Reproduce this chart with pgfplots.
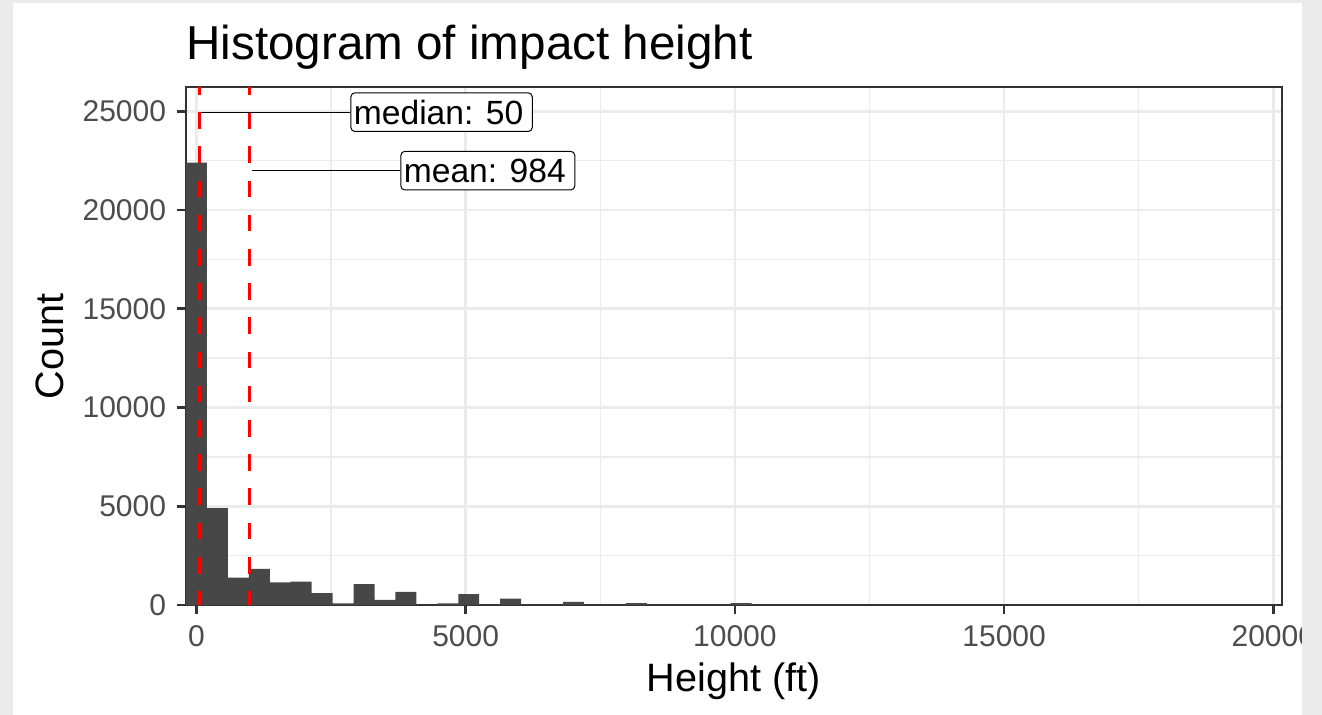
\documentclass[border=0pt]{standalone}
\usepackage{pgfplots}
\pgfplotsset{compat=1.18}
\usepackage{fontspec}
\setmainfont{Liberation Sans}
\definecolor{bgframe}{HTML}{EBEBEB}
\definecolor{gridc}{HTML}{EBEBEB}
\definecolor{barc}{HTML}{474747}
\definecolor{tickc}{HTML}{333333}
\definecolor{ticklab}{HTML}{4D4D4D}
\begin{document}
\begin{tikzpicture}
\useasboundingbox (0,0) rectangle (661pt,-357.5pt);
\fill[bgframe] (0,0) rectangle (661pt,-357.5pt);
\fill[white] (6.35pt,-1.5pt) rectangle (651pt,-357.5pt);
\begin{axis}[
  at={(93pt,-302.5pt)}, anchor=south west,
  scale only axis, width=547.85pt, height=258.85pt,
  xmin=-194.5, xmax=20156, ymin=0, ymax=26210,
  xtick={0,5000,10000,15000,20000},
  ytick={0,5000,10000,15000,20000,25000},
  minor xtick={2500,7500,12500,17500},
  minor ytick={2500,7500,12500,17500,22500},
  scaled ticks=false,
  /pgf/number format/set thousands separator={},
  /pgf/number format/assume math mode=true,
  tick pos=left,
  tick align=outside,
  major tick length=4.3pt,
  minor tick length=0pt,
  major tick style={line width=1.35pt, color=tickc},
  grid=both,
  major grid style={gridc, line width=1.35pt},
  minor grid style={gridc, line width=0.7pt},
  axis line style={tickc, line width=1pt},
  tick label style={font=\fontsize{15}{18}\selectfont, text=ticklab, inner sep=0pt},
  xticklabel style={yshift=-5.85pt},
  yticklabel style={xshift=-5.5pt},
]
\addplot[ybar interval, fill=barc, draw=none] coordinates {
(-194.5,22400) (194.5,4900) (583.5,1390) (972.5,1830) (1361.5,1150)
(1750.5,1180) (2139.5,600) (2528.5,86) (2917.5,1060) (3306.5,257)
(3695.5,668) (4084.5,0) (4473.5,86) (4862.5,548) (5251.5,0)
(5640.5,325) (6029.5,0) (6418.5,0) (6807.5,154) (7196.5,0)
(7585.5,0) (7974.5,100) (8363.5,0) (8752.5,0) (9141.5,0)
(9530.5,0) (9919.5,100) (10308.5,0)
};
\addplot[red, line width=1.65pt, dash pattern=on 8.3pt off 8.8pt, dash phase=1.35pt] coordinates {(50,0) (50,26210)};
\addplot[red, line width=1.65pt, dash pattern=on 8.3pt off 8.8pt, dash phase=1.35pt] coordinates {(984,0) (984,26210)};
\draw[line width=0.65pt] (axis cs:87,24950) -- (axis cs:2859,24950);
\draw[line width=0.65pt] (axis cs:1034,21990) -- (axis cs:3787,21990);
\node[draw, line width=0.5pt, rounded corners=2pt, fill=white, anchor=west,
  inner xsep=1.5pt, inner ysep=3.6pt, text height=12.1pt, text depth=0pt,
  font=\fontsize{16.8}{20}\selectfont] at (axis cs:2859,24950) {median: 50\kern3pt};
\node[draw, line width=0.5pt, rounded corners=2pt, fill=white, anchor=west,
  inner xsep=1.5pt, inner ysep=3.6pt, text height=12.1pt, text depth=0pt,
  font=\fontsize{16.8}{20}\selectfont] at (axis cs:3787,21990) {mean: 984\kern3pt};
\end{axis}
\fill[bgframe] (651pt,0) rectangle (661pt,-357.5pt);
\node[anchor=base west, inner sep=0pt, font=\fontsize{23.8}{28}\selectfont] at (93pt,-30pt) {Histogram of impact height};
\node[anchor=base, inner sep=0pt, rotate=90, font=\fontsize{19.8}{24}\selectfont] at (31.9pt,-173.25pt) {Count};
\node[anchor=base, inner sep=0pt, font=\fontsize{19.8}{24}\selectfont] at (366.95pt,-345.5pt) {Height (ft)};
\end{tikzpicture}
\end{document}
